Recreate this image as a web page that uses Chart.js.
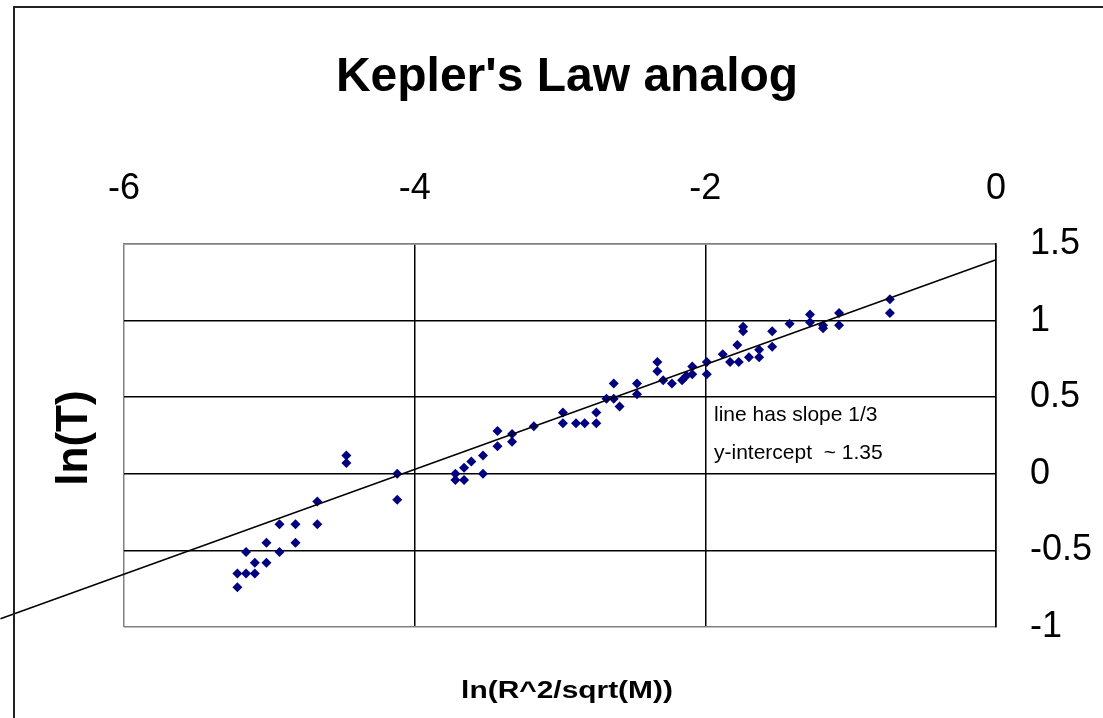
<!DOCTYPE html>
<html>
<head>
<meta charset="utf-8">
<script src="https://cdn.jsdelivr.net/npm/chart.js@4/dist/chart.umd.min.js"></script>
<style>
  html, body { margin: 0; padding: 0; background: #fff; }
  #wrap { width: 1103px; height: 718px; }
</style>
</head>
<body>
<div id="wrap"><canvas id="keplerChart" width="1103" height="718"></canvas></div>
<script>
// ln(R^2/sqrt(M)) values
const lnRatio = [
    -5.22, -5.22, -5.16, -5.10, -5.10, -5.02, -5.16, -4.93, -5.02, -4.82,
    -4.93, -4.82, -4.67, -4.67, -4.47, -4.47, -4.12, -4.12, -3.72, -3.72,
    -3.66, -3.66, -3.61, -3.53, -3.53, -3.43, -3.43, -3.33, -3.33, -3.18,
    -2.98, -2.98, -2.89, -2.83, -2.75, -2.75, -2.68, -2.63, -2.63, -2.59,
    -2.47, -2.47, -2.33, -2.33, -2.29, -2.23, -2.16, -2.13, -2.09, -2.09,
    -1.99, -1.99, -1.88, -1.83, -1.78, -1.77, -1.74, -1.74, -1.70, -1.63,
    -1.63, -1.54, -1.54, -1.42, -1.28, -1.28, -1.19, -1.19, -1.08, -1.08,
    -0.73, -0.73
];
// ln(T) values
const lnPeriod = [
    -0.74, -0.65, -0.65, -0.65, -0.58, -0.58, -0.51, -0.51, -0.45, -0.45,
    -0.33, -0.33, -0.33, -0.18, 0.12, 0.07, 0.00, -0.17, 0.00, -0.04,
    0.04, -0.04, 0.08, 0.12, 0.00, 0.28, 0.18, 0.26, 0.21, 0.31,
    0.40, 0.33, 0.33, 0.33, 0.40, 0.33, 0.49, 0.59, 0.49, 0.44,
    0.59, 0.52, 0.73, 0.67, 0.61, 0.59, 0.61, 0.64, 0.70, 0.65,
    0.73, 0.65, 0.78, 0.73, 0.84, 0.73, 0.96, 0.93, 0.76, 0.81,
    0.76, 0.93, 0.83, 0.98, 1.04, 0.99, 0.97, 0.95, 1.05, 0.97,
    1.14, 1.05
];

// reference line drawn on the sheet
const fitSlope = 0.342;
const fitIntercept = 1.397;
const fitRange = [-6.85, 0];

const xTicks = [-6, -4, -2, 0];
const yTicks = [1.5, 1, 0.5, 0, -0.5, -1];

const points = lnRatio.map((x, i) => ({ x: x, y: lnPeriod[i] }));
const fitLine = fitRange.map(x => ({ x: x, y: fitSlope * x + fitIntercept }));

const FONT = '"Liberation Sans", Arial, sans-serif';
const GREY = '#808080';

// titles, note and outer frame
const decorations = {
    id: 'decorations',
    afterDraw(chart) {
        const ctx = chart.ctx;
        ctx.save();
        ctx.strokeStyle = '#222';
        ctx.lineWidth = 2;
        ctx.strokeRect(14, 7, 1200, 800);

        ctx.fillStyle = '#000';
        ctx.textAlign = 'center';
        ctx.textBaseline = 'alphabetic';
        ctx.font = 'bold 48px ' + FONT;
        ctx.fillText("Kepler's Law analog", 567, 91);

        // x axis title, a bit wider than the plain font
        ctx.save();
        ctx.translate(567, 698);
        ctx.scale(1.3, 1);
        ctx.font = 'bold 23px ' + FONT;
        ctx.fillText('ln(R^2/sqrt(M))', 0, 0);
        ctx.restore();

        ctx.save();
        ctx.translate(87, 438);
        ctx.rotate(-Math.PI / 2);
        ctx.font = 'bold 44px ' + FONT;
        ctx.fillText('ln(T)', 0, 0);
        ctx.restore();

        ctx.textAlign = 'left';
        ctx.textBaseline = 'middle';
        ctx.font = '21px ' + FONT;
        ctx.fillText('line has slope 1/3', 714, 415);
        ctx.fillText('y-intercept  ~ 1.35', 714, 453);
        ctx.restore();
    }
};

new Chart(document.getElementById('keplerChart'), {
    type: 'scatter',
    data: {
        datasets: [{
            data: fitLine,
            showLine: true,
            borderColor: '#000',
            borderWidth: 1.5,
            pointRadius: 0,
            clip: false
        }, {
            data: points,
            pointStyle: 'rectRot',
            pointRadius: 5,
            backgroundColor: '#000080',
            borderColor: '#000080',
            borderWidth: 0
        }]
    },
    options: {
        responsive: false,
        animation: false,
        layout: { padding: { left: 124, top: 0, right: 0, bottom: 91 } },
        plugins: {
            legend: { display: false },
            tooltip: { enabled: false }
        },
        scales: {
            x: {
                type: 'linear',
                position: 'top',
                min: -6,
                max: 0,
                afterBuildTicks: s => { s.ticks = xTicks.map(v => ({ value: v })); },
                afterFit: s => { s.height = 244; },
                ticks: { color: '#000', font: { family: FONT, size: 36 }, padding: 33, callback: v => String(v) },
                grid: {
                    drawTicks: false,
                    lineWidth: 1.5,
                    color: c => (c.tick && c.tick.value === -6) ? GREY : '#000'
                },
                border: { color: GREY, width: 1.5 }
            },
            y: {
                type: 'linear',
                position: 'right',
                min: -1,
                max: 1.5,
                afterBuildTicks: s => { s.ticks = yTicks.map(v => ({ value: v })); },
                afterFit: s => { s.width = 107; },
                ticks: { color: '#000', font: { family: FONT, size: 36 }, padding: 34, callback: v => String(v) },
                grid: {
                    drawTicks: false,
                    lineWidth: 1.5,
                    color: c => (c.tick && (c.tick.value === 1.5 || c.tick.value === -1)) ? GREY : '#000'
                },
                border: { color: '#000', width: 1.5 }
            }
        }
    },
    plugins: [decorations]
});
</script>
</body>
</html>
